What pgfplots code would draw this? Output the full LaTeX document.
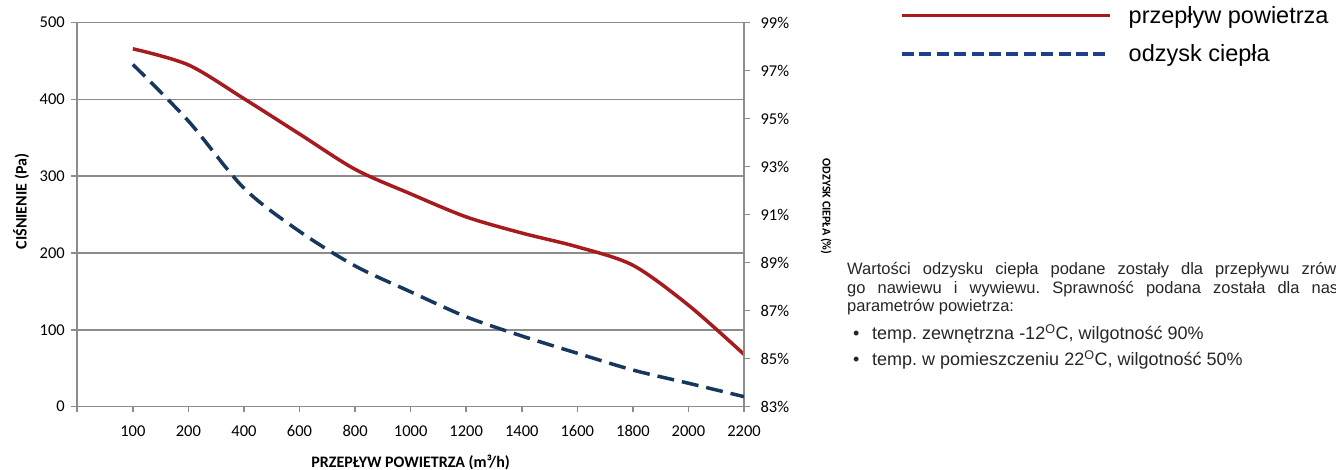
\documentclass[border=0pt]{standalone}
\usepackage{pgfplots}
\pgfplotsset{compat=1.18}
\usepackage{fontspec}
\setmainfont{Carlito}
\newfontfamily\arial{Liberation Sans}

\definecolor{redline}{HTML}{A61B1E}
\definecolor{blueline}{HTML}{17375E}
\definecolor{legblue}{HTML}{1F3F88}
\definecolor{gridgray}{HTML}{8C8C8C}

% przeplyw (m3/h) -> indeks kategorii 1..12
\pgfplotstableread{
idx  pa
1    466
2    445
3    401
4    355
5    309
6    277
7    247
8    226
9    208
10   184
11   132
12   68
}\cisnienie

\pgfplotstableread{
idx  eff
1    97.26
2    94.90
3    92.10
4    90.30
5    88.86
6    87.78
7    86.74
8    85.94
9    85.22
10   84.52
11   83.97
12   83.41
}\odzysk

\pgfplotsset{
  common/.style={
    at={(77.3pt,63.5pt)}, anchor=south west,
    scale only axis, width=666.7pt, height=383.8pt,
    xmin=0, xmax=12,
    axis line style={gridgray, line width=1.6pt, -},
    tick style={gridgray, line width=1.6pt},
    tick align=outside, major tick length=6pt,
    ticklabel style={font=\fontsize{16.5}{19}\selectfont, text=black},
    /pgf/number format/assume math mode=true,
  }
}

\begin{document}
\frenchspacing
\begin{tikzpicture}[x=1pt,y=1pt]
\useasboundingbox (0,0) rectangle (1336,470);

\begin{axis}[common,
  ymin=0, ymax=500,
  xtick={0,...,12},
  xticklabels={,100,200,400,600,800,1000,1200,1400,1600,1800,2000,2200},
  ytick={0,100,...,500},
  axis x line*=bottom, axis y line*=left,
  xticklabel style={yshift=-10pt, text height=10.5pt, text depth=0pt},
  yticklabel style={xshift=-3pt},
  ymajorgrids, grid style={gridgray, line width=1.6pt},
  xlabel={PRZEPŁYW POWIETRZA (m³/h)},
  ylabel={CIŚNIENIE (Pa)},
  every axis x label/.style={at={(axis description cs:0.5,0)}, anchor=base, yshift=-61.5pt,
    font=\bfseries\fontsize{16}{19}\selectfont},
  every axis y label/.style={at={(axis description cs:-0.0759,0.534)}, rotate=90, anchor=base,
    font=\bfseries\fontsize{16}{19}\selectfont},
]
\addplot[redline, line width=3.5pt, smooth] table[x=idx, y=pa] {\cisnienie};
\end{axis}

\begin{axis}[common,
  ymin=83, ymax=99,
  ytick={83,85,...,99},
  yticklabel={\pgfmathprintnumber{\tick}\%},
  yticklabel style={xshift=7pt},
  axis y line*=right, axis x line=none,
  ylabel={ODZYSK CIEPŁA (\%)},
  every axis y label/.style={at={(axis description cs:1.118,0.521)}, rotate=-90, anchor=base,
    font=\bfseries\fontsize{12}{14}\selectfont},
  legend cell align=left,
  legend image code/.code={\draw[#1] (0pt,0pt) -- (208pt,0pt);},
  legend style={at={(axis description cs:1.234,1.043)}, anchor=north west,
    draw=none, fill=none, inner sep=0pt, row sep=20pt,
    font=\arial\fontsize{23.5}{28}\selectfont,
    nodes={inner sep=0pt, text depth=0.15em},
    /tikz/every odd column/.append style={column sep=17pt}},
]
\addlegendimage{redline, line width=3.5pt}
\addlegendentry{przepływ powietrza}
\addlegendimage{legblue, line width=3.5pt, dash pattern=on 12pt off 5.4pt}
\addlegendentry{odzysk ciepła}
\addplot[blueline, line width=3.5pt, smooth, dash pattern=on 17pt off 8pt, forget plot]
  table[x=idx, y=eff] {\odzysk};
\end{axis}

\begin{scope}[every node/.style={anchor=base west, inner sep=0pt, text=black!85}]
\begin{scope}[font=\arial\fontsize{16.5}{19}\selectfont]
\node at (847,195.5) {\makebox[570pt][s]{Wartości odzysku ciepła podane zostały dla przepływu zrównoważone-}};
\node at (847,176.7) {\makebox[570pt][s]{go nawiewu i wywiewu. Sprawność podana została dla następujących}};
\node at (847,158.0) {parametrów powietrza:};
\end{scope}
\begin{scope}[font=\arial\fontsize{18}{21}\selectfont]
\node at (853,130) {•};
\node at (872,130) {temp. zewnętrzna -12\textsuperscript{O}C, wilgotność 90\%};
\node at (853,104) {•};
\node at (872,104) {temp. w pomieszczeniu 22\textsuperscript{O}C, wilgotność 50\%};
\end{scope}
\end{scope}
\end{tikzpicture}
\end{document}
